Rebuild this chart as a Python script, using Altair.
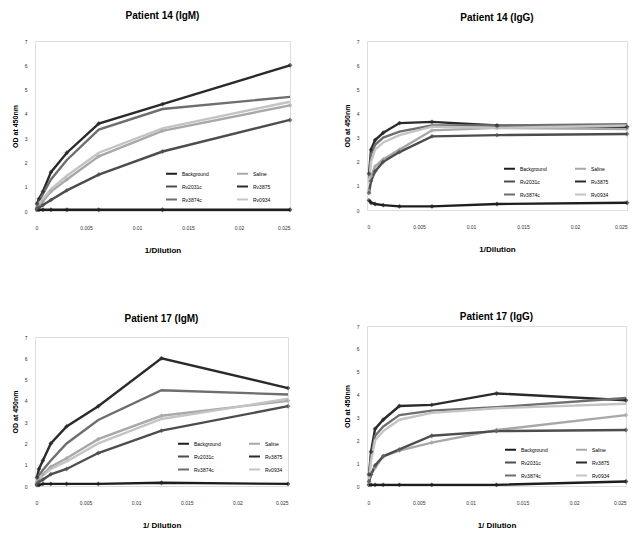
import altair as alt
import pandas as pd

# ---- data ----
X_VALUES = [0.000195, 0.00039, 0.00078, 0.0015625, 0.003125, 0.00625, 0.0125, 0.025]
SERIES = ["Background", "Saline", "Rv2031c", "Rv3875", "Rv3874c", "Rv0934"]
# legend is filled column by column: this order reads row by row as SERIES
LEGEND_ORDER = ["Background", "Rv2031c", "Rv3874c", "Saline", "Rv3875", "Rv0934"]
X_TICKS = [0, 0.005, 0.01, 0.015, 0.02, 0.025]
Y_TICKS = [0, 1, 2, 3, 4, 5, 6, 7]

p14_igm = {
    "Background": [0.05, 0.05, 0.05, 0.05, 0.05, 0.05, 0.05, 0.05],
    "Saline":     [0.15, 0.25, 0.4, 0.8, 1.3, 2.25, 3.3, 4.35],
    "Rv2031c":    [0.1, 0.15, 0.25, 0.45, 0.85, 1.5, 2.45, 3.75],
    "Rv3875":     [0.3, 0.5, 0.8, 1.6, 2.4, 3.6, 4.4, 6.0],
    "Rv3874c":    [0.25, 0.4, 0.7, 1.3, 2.1, 3.35, 4.2, 4.7],
    "Rv0934":     [0.2, 0.3, 0.5, 0.9, 1.45, 2.4, 3.4, 4.5],
}
p14_igg = {
    "Background": [0.4, 0.3, 0.25, 0.2, 0.15, 0.15, 0.25, 0.3],
    "Saline":     [0.8, 1.4, 1.8, 2.1, 2.5, 3.3, 3.4, 3.35],
    "Rv2031c":    [0.7, 1.2, 1.6, 2.0, 2.4, 3.05, 3.1, 3.15],
    "Rv3875":     [1.5, 2.5, 2.9, 3.2, 3.6, 3.65, 3.5, 3.45],
    "Rv3874c":    [1.3, 2.3, 2.7, 3.0, 3.25, 3.5, 3.5, 3.55],
    "Rv0934":     [1.1, 2.0, 2.5, 2.8, 3.1, 3.45, 3.4, 3.5],
}
p17_igm = {
    "Background": [0.05, 0.05, 0.1, 0.1, 0.1, 0.1, 0.15, 0.1],
    "Saline":     [0.2, 0.3, 0.55, 0.9, 1.3, 2.2, 3.3, 4.0],
    "Rv2031c":    [0.1, 0.2, 0.3, 0.55, 0.8, 1.55, 2.6, 3.75],
    "Rv3875":     [0.4, 0.8, 1.2, 2.0, 2.8, 3.75, 6.0, 4.6],
    "Rv3874c":    [0.3, 0.5, 0.75, 1.2, 2.0, 3.1, 4.5, 4.3],
    "Rv0934":     [0.2, 0.35, 0.5, 0.8, 1.15, 2.0, 3.15, 4.1],
}
p17_igg = {
    "Background": [0.05, 0.05, 0.05, 0.05, 0.05, 0.05, 0.05, 0.2],
    "Saline":     [0.2, 0.5, 0.8, 1.3, 1.55, 1.9, 2.45, 3.1],
    "Rv2031c":    [0.2, 0.5, 0.9, 1.3, 1.6, 2.2, 2.4, 2.45],
    "Rv3875":     [0.5, 1.5, 2.5, 2.9, 3.5, 3.55, 4.05, 3.75],
    "Rv3874c":    [0.4, 1.3, 2.2, 2.6, 3.1, 3.3, 3.45, 3.85],
    "Rv0934":     [0.3, 1.1, 2.0, 2.4, 2.9, 3.2, 3.4, 3.6],
}

COLOR_OF = {
    "Background": "#1e1e1e", "Saline": "#a8a8a8", "Rv2031c": "#4d4d4d",
    "Rv3875": "#2a2a2a", "Rv3874c": "#6e6e6e", "Rv0934": "#c4c4c4",
}
MARKED = ["Background", "Saline", "Rv2031c", "Rv3875"]
FONT = "Liberation Sans"


def to_df(vals):
    rows = []
    for s in SERIES:
        for x, y in zip(X_VALUES, vals[s]):
            rows.append({"x": x, "y": y, "series": s})
    return pd.DataFrame(rows)


def panel(title, xtitle, vals, w, h, lx, ly, toff):
    df = to_df(vals)
    cscale = alt.Scale(domain=LEGEND_ORDER, range=[COLOR_OF[s] for s in LEGEND_ORDER])
    color = alt.Color(
        "series:N",
        scale=cscale,
        legend=alt.Legend(
            title=None, orient="none", legendX=lx, legendY=ly, columns=2,
            symbolType="stroke", symbolSize=120, symbolStrokeWidth=2,
            labelFontSize=5, labelFont=FONT, columnPadding=24, rowPadding=2,
            labelLimit=60,
        ),
    )
    x = alt.X(
        "x:Q",
        scale=alt.Scale(domain=[0, 0.025], nice=False),
        axis=alt.Axis(values=X_TICKS, format="~g", title=xtitle, domain=False,
                      ticks=False, grid=False, labelFontSize=5, labelFont=FONT,
                      labelPadding=14, titleFontSize=8, titleFont=FONT,
                      titleFontWeight="bold", titlePadding=16, labelColor="#333",
                      labelOverlap=False),
    )
    y = alt.Y(
        "y:Q",
        scale=alt.Scale(domain=[0, 7], nice=False),
        axis=alt.Axis(values=Y_TICKS, title="OD at 450nm", domain=False,
                      ticks=False, grid=False, labelFontSize=5, labelFont=FONT,
                      labelPadding=8, titleFontSize=7, titleFont=FONT,
                      titleFontWeight="bold", titlePadding=6, labelColor="#333",
                      labelOverlap=False),
    )
    lines = alt.Chart(df).mark_line(strokeWidth=2.4).encode(
        x=x, y=y, color=color, order="x:Q", detail="series:N"
    )
    pts = alt.Chart(df).transform_filter(
        alt.FieldOneOfPredicate(field="series", oneOf=MARKED)
    ).mark_point(filled=True, size=24, shape="diamond").encode(
        x=x, y=y,
        color=alt.Color("series:N", scale=cscale, legend=None),
    )
    return alt.layer(lines, pts).properties(
        width=w, height=h,
        title=alt.TitleParams(title, fontSize=10, fontWeight="bold", font=FONT,
                              anchor="middle", offset=toff),
    )


tl = panel("Patient  14 (IgM)", "1/Dilution", p14_igm, 255, 170, 130, 126, 18)
tr = panel("Patient  14 (IgG)", "1/Dilution", p14_igg, 260, 169, 136, 121, 16)
bl = panel("Patient 17 (IgM)", "1/ Dilution", p17_igm, 253, 149, 142, 100, 11.5)
br = panel("Patient 17 (IgG)", "1/ Dilution", p17_igg, 259, 160, 137, 117, 2.5)

left = alt.vconcat(tl, bl, spacing=58).resolve_scale(color="independent").resolve_legend(color="independent")
right = alt.vconcat(tr, br, spacing=57).resolve_scale(color="independent").resolve_legend(color="independent")
chart = alt.hconcat(left, right, spacing=46).resolve_scale(
    color="independent"
).resolve_legend(color="independent").configure_view(
    fill="#dcdcdc", stroke=None
).configure_axis(labelOverlap=False).configure(
    background="white", padding={"left": 10, "top": 10, "right": 3, "bottom": 0}
)

chart.save("out.html", embed_options={"renderer": "svg", "actions": False})
